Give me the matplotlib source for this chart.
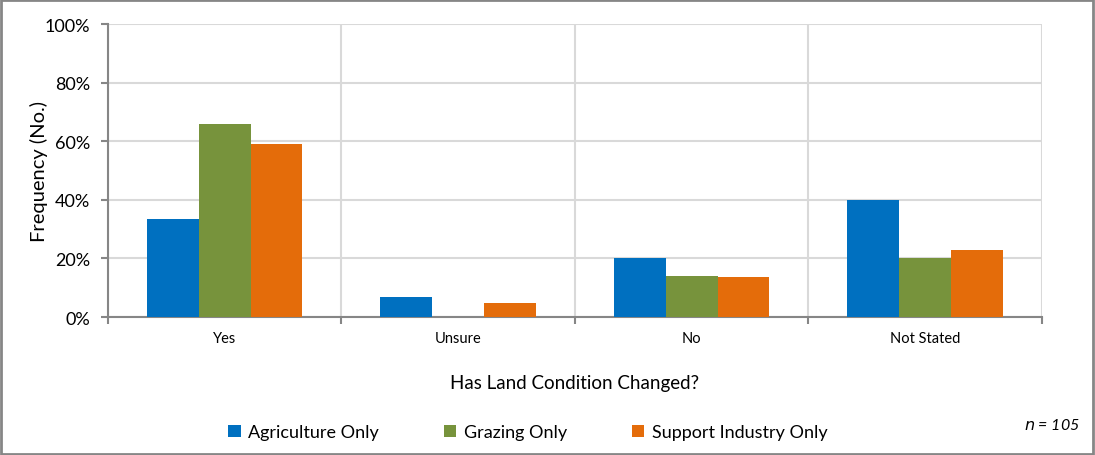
import numpy as np
import matplotlib.pyplot as plt
from matplotlib.ticker import PercentFormatter
from matplotlib.patches import Rectangle

# Datos (porcentaje)
categorias = ["Yes", "Unsure", "No", "Not Stated"]
series = ["Agriculture Only", "Grazing Only", "Support Industry Only"]
agricultura = [33.3, 6.7, 20.0, 40.0]
pastoreo = [65.8, 0.0, 14.0, 20.0]
industria = [59.0, 4.8, 13.6, 22.8]
colores = ["#0070C0", "#77933C", "#E46C0A"]

fig = plt.figure(figsize=(10.95, 4.56), dpi=100)
ax = fig.add_axes([0.0986, 0.3026, 0.853, 0.6424])

x = np.arange(len(categorias))
ancho = 0.222
for k, valores in enumerate([agricultura, pastoreo, industria]):
	ax.bar(x + (k - 1) * ancho, valores, ancho, color=colores[k], label=series[k], zorder=3)

ax.set_xlim(-0.5, len(categorias) - 0.5)
ax.set_ylim(0, 100)
ax.set_yticks(np.arange(0, 101, 20))
ax.yaxis.set_major_formatter(PercentFormatter(decimals=0))

# Líneas de rejilla: horizontales y separadores de categoría
ax.set_xticks(x)
ax.set_xticklabels(categorias, fontsize=10.5, family="Lato")
ax.set_xticks(np.arange(-0.5, len(categorias)), minor=True)
ax.tick_params(axis="x", which="major", length=0, pad=10)
ax.tick_params(axis="x", which="minor", length=5, color="#868686", width=1.5)
ax.tick_params(axis="y", length=5, color="#868686", width=1.5, labelsize=13, pad=8)
for lab in ax.get_yticklabels():
	lab.set_family("Lato")
ax.grid(axis="y", color="#D9D9D9", lw=1.5, zorder=0)
ax.grid(axis="x", which="minor", color="#D9D9D9", lw=1.5, zorder=0)

for lado in ["top", "right"]:
	ax.spines[lado].set_visible(False)
for lado in ["left", "bottom"]:
	ax.spines[lado].set_color("#868686")
	ax.spines[lado].set_linewidth(1.5)

ax.set_ylabel("Frequency (No.)", fontsize=14.5, family="Lato")
ax.yaxis.set_label_coords(-0.064, 0.5)
ax.set_xlabel("Has Land Condition Changed?", fontsize=13.5, family="Lato", labelpad=21)

fig.legend(loc="center", bbox_to_anchor=(0.482, 0.05), ncol=3, frameon=False,
		   prop={"family": "Lato", "size": 13},
		   handlelength=0.7, handleheight=0.7, handletextpad=0.4, columnspacing=3.6)

fig.text(0.986, 0.05, "$n$ = 105", ha="right", va="bottom", fontsize=11.5,
		 family="Lato", style="italic")

fig.patches.append(Rectangle((0.001, 0.002), 0.997, 0.995, transform=fig.transFigure,
							 fill=False, edgecolor="#868686", lw=2))

fig.savefig("out.png", dpi=100)
